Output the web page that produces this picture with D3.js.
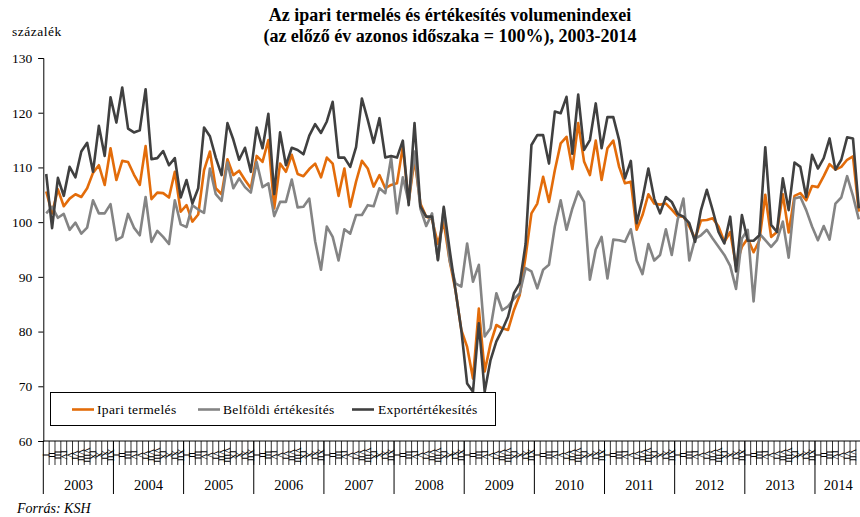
<!DOCTYPE html>
<html>
<head>
<meta charset="utf-8">
<script src="https://cdn.jsdelivr.net/npm/d3@7/dist/d3.min.js"></script>
<style>
  body { margin: 0; background: #fff; }
  svg { display: block; }
  svg text { font-family: "Liberation Serif", "DejaVu Serif", serif; }
</style>
</head>
<body>
<svg id="chart" width="860" height="517"></svg>
<script>
const years = [2003, 2004, 2005, 2006, 2007, 2008, 2009, 2010, 2011, 2012, 2013, 2014]
const monthLabels = ['I', 'II', 'III', 'IV', 'V', 'VI', 'VII', 'VIII', 'IX', 'X', 'XI', 'XII']
const lastYearMonths = 8
const yTicks = [60, 70, 80, 90, 100, 110, 120, 130]

// Ipari termelés
const ipari = [
  105.6, 101.6, 106.0, 102.9, 104.3, 105.1, 104.6, 106.2, 109.0, 110.4, 106.8, 113.5,
  107.7, 111.2, 111.0, 108.7, 106.8, 113.9, 104.2, 105.4, 105.3, 104.5, 109.2, 101.9,
  103.1, 100.1, 101.4, 109.5, 112.9, 106.2, 105.1, 111.5, 108.6, 109.4, 107.7, 106.2,
  112.1, 111.0, 115.0, 102.5, 110.7, 109.2, 112.3, 108.8, 108.4, 109.7, 110.7, 108.2,
  111.8, 110.7, 104.8, 109.8, 102.8, 107.4, 111.2, 109.8, 106.5, 108.6, 106.2, 106.8,
  107.1, 113.8, 103.7, 111.5, 103.4, 101.0, 100.5, 96.0, 100.0, 93.0, 87.6, 80.3,
  77.2, 71.4, 84.2, 72.7, 77.8, 81.2, 80.6, 80.3, 83.9, 86.7, 93.7, 101.6,
  103.4, 108.3, 103.7, 109.5, 114.4, 115.6, 109.7, 118.1, 111.1, 108.6, 114.9, 107.7,
  113.5, 114.9, 110.1, 107.1, 107.4, 98.6, 101.3, 105.1, 103.4, 103.2, 103.4, 102.3,
  101.1, 101.0, 99.2, 97.0, 100.3, 100.4, 100.7, 99.2, 96.4, 98.2, 92.0, 95.5,
  97.0, 94.5, 96.7, 105.0, 97.3, 98.2, 105.1, 98.1, 104.8, 105.3, 104.0, 106.6,
  106.4, 108.4, 110.6, 109.6, 110.1, 111.4, 112.0, 101.9
]

// Belföldi értékesítés
const belfoldi = [
  101.6, 102.8, 100.8, 101.5, 98.6, 99.9, 97.9, 99.0, 104.0, 101.6, 101.6, 103.3,
  96.7, 97.3, 101.5, 99.0, 97.6, 104.6, 96.4, 98.4, 97.3, 96.0, 104.0, 99.6,
  99.1, 103.1, 102.3, 101.7, 109.8, 105.1, 103.9, 110.9, 106.2, 108.0, 106.4, 105.4,
  111.0, 106.4, 107.1, 101.1, 103.7, 103.7, 107.8, 102.7, 102.8, 104.3, 96.5, 91.3,
  99.2, 97.3, 93.0, 98.7, 97.9, 101.3, 101.3, 103.1, 102.9, 106.2, 105.3, 111.8,
  101.6, 108.2, 103.7, 112.9, 102.5, 99.3, 101.6, 93.0, 102.5, 93.0, 88.8, 88.2,
  96.1, 89.1, 92.2, 79.1, 80.6, 87.0, 83.9, 84.6, 86.0, 87.0, 91.6, 91.0,
  87.9, 91.3, 92.2, 99.2, 104.0, 98.6, 102.5, 105.6, 103.7, 89.5, 95.0, 97.3,
  89.7, 96.8, 96.7, 96.4, 98.7, 93.0, 90.5, 96.0, 93.0, 94.0, 98.7, 94.0,
  100.4, 104.3, 93.0, 97.0, 97.6, 98.6, 97.0, 95.5, 94.0, 92.0, 87.8, 97.0,
  98.6, 85.5, 97.9, 96.7, 95.5, 96.7, 100.1, 93.5, 104.3, 104.6, 102.2, 99.2,
  96.7, 99.3, 96.8, 103.4, 104.5, 108.4, 104.8, 100.5
]

// Exportértékesítés
const exportErt = [
  108.8, 98.9, 108.1, 104.8, 110.1, 108.2, 112.9, 114.5, 109.2, 117.6, 112.1, 122.8,
  118.2, 124.6, 117.1, 116.4, 116.8, 124.3, 111.5, 111.7, 113.0, 110.4, 111.7, 104.5,
  107.7, 103.4, 106.2, 117.3, 115.7, 111.8, 108.6, 118.1, 115.1, 111.4, 113.6, 109.2,
  117.3, 113.5, 119.8, 105.1, 116.4, 110.4, 113.6, 113.2, 112.4, 115.8, 117.9, 116.3,
  118.4, 122.0, 111.8, 111.8, 110.1, 113.7, 122.6, 118.7, 114.5, 119.0, 111.8, 112.1,
  111.8, 114.9, 103.1, 118.1, 102.9, 101.0, 101.0, 93.1, 102.8, 95.0, 87.6, 80.3,
  70.5, 69.0, 81.5, 69.0, 74.8, 78.2, 80.3, 82.7, 87.0, 88.8, 96.0, 114.1,
  115.9, 115.9, 110.7, 120.2, 119.9, 122.9, 112.5, 123.3, 113.2, 115.0, 121.7, 113.5,
  119.2, 119.2, 115.0, 108.0, 111.2, 99.8, 104.3, 109.8, 104.3, 101.6, 104.6, 103.7,
  101.5, 101.0, 99.8, 96.4, 102.2, 105.9, 102.2, 98.2, 96.1, 101.0, 91.0, 101.3,
  96.6, 96.6, 97.6, 113.7, 99.5, 98.2, 108.0, 102.2, 110.9, 110.1, 104.6, 112.3,
  109.8, 111.7, 115.3, 109.6, 111.4, 115.5, 115.3, 102.5
]

const seriesNames = ['Ipari termelés', 'Belföldi értékesítés', 'Exportértékesítés']
const colors = ['#e36c0a', '#848484', '#404040']

function draw() {
  const svg = d3.select('#chart')
  const margin = { left: 43.3, top: 58, bottom: 441 }

  const months = []
  years.forEach((yr, yi) => {
    const n = yi === years.length - 1 ? lastYearMonths : 12
    for (let m = 0; m < n; m++) months.push({ key: `${yr}-${m}`, year: yr, m })
  })

  const x = d3.scaleBand()
    .domain(months.map(d => d.key))
    .range([margin.left, margin.left + months.length * 5.846])
    .padding(0)
  const y = d3.scaleLinear()
    .domain([60, 130])
    .range([margin.bottom, margin.top])

  // title
  const title = svg.append('text')
    .attr('text-anchor', 'middle')
    .style('font-weight', 'bold')
    .style('font-size', '18px')
  title.append('tspan').attr('x', 450).attr('y', 21).text('Az ipari termelés és értékesítés volumenindexei')
  title.append('tspan').attr('x', 450).attr('y', 42).text('(az előző év azonos időszaka = 100%), 2003-2014')

  svg.append('text')
    .attr('x', 12)
    .attr('y', 36)
    .style('font-size', '13.5px')
    .style('letter-spacing', '0.5px')
    .text('százalék')

  // y axis
  const yAxis = d3.axisLeft(y).tickValues(yTicks).tickSize(5).tickPadding(6)
  svg.append('g')
    .attr('transform', `translate(${margin.left},0)`)
    .call(yAxis)
    .attr('font-family', null)
    .attr('font-size', null)
    .call(g => g.selectAll('text').style('font-size', '13.5px').attr('fill', '#000'))
    .call(g => g.selectAll('line,path').attr('stroke', '#000'))

  // x axis baseline
  svg.append('line')
    .attr('x1', margin.left).attr('x2', 860)
    .attr('y1', y(60)).attr('y2', y(60))
    .attr('stroke', '#000')

  // month ticks
  svg.append('g').selectAll('line')
    .data(months)
    .join('line')
    .attr('x1', d => x(d.key) + x.bandwidth()).attr('x2', d => x(d.key) + x.bandwidth())
    .attr('y1', y(60)).attr('y2', y(60) + 24)
    .attr('stroke', '#000')
    .attr('stroke-width', 0.8)

  // month labels (vertical roman numerals)
  svg.append('g').selectAll('text')
    .data(months.filter(d => x(d.key) + x.bandwidth() < 858))
    .join('text')
    .attr('transform', d => `translate(${x(d.key) + x.bandwidth() / 2 - 3},${y(60) + 14}) rotate(90)`)
    .attr('text-anchor', 'middle')
    .style('font-size', '9px')
    .text(d => monthLabels[d.m])

  // year separators and labels
  const yearStarts = months.filter(d => d.m === 0)
  const monthsInYear = yr => months.filter(d => d.year === yr).length
  svg.append('g').selectAll('line')
    .data(yearStarts)
    .join('line')
    .attr('x1', d => x(d.key)).attr('x2', d => x(d.key))
    .attr('y1', y(60)).attr('y2', y(60) + 53)
    .attr('stroke', '#000')

  svg.append('g').selectAll('text')
    .data(yearStarts)
    .join('text')
    .attr('x', d => x(d.key) + monthsInYear(d.year) / 2 * x.bandwidth())
    .attr('y', y(60) + 49)
    .attr('text-anchor', 'middle')
    .style('font-size', '14.5px')
    .text(d => d.year)

  svg.append('text')
    .attr('x', 17)
    .attr('y', 513)
    .style('font-size', '14px')
    .style('font-style', 'italic')
    .text('Forrás: KSH')

  // lines
  const allSeries = [ipari, belfoldi, exportErt]
  const line = d3.line()
    .x((d, i) => x(months[i].key) + x.bandwidth() / 2)
    .y(d => y(d))
  svg.append('g').selectAll('path')
    .data(allSeries)
    .join('path')
    .attr('d', line)
    .attr('fill', 'none')
    .attr('stroke', (d, i) => colors[i])
    .attr('stroke-width', 2.6)
    .attr('stroke-linejoin', 'round')

  // legend
  const legend = svg.append('g')
  legend.append('rect')
    .attr('x', 50.5).attr('y', 392.5)
    .attr('width', 445).attr('height', 33)
    .attr('fill', '#fff')
    .attr('stroke', '#000')
  const legendLineX = [72, 198, 352]
  const legendTextX = [97, 223, 378]
  seriesNames.forEach((name, i) => {
    legend.append('line')
      .attr('x1', legendLineX[i]).attr('x2', legendLineX[i] + 22)
      .attr('y1', 409.5).attr('y2', 409.5)
      .attr('stroke', colors[i])
      .attr('stroke-width', 2.6)
    legend.append('text')
      .attr('x', legendTextX[i])
      .attr('y', 414)
      .style('font-size', '13.5px')
      .style('letter-spacing', '0.35px')
      .text(name)
  })
}

draw()
</script>
</body>
</html>
